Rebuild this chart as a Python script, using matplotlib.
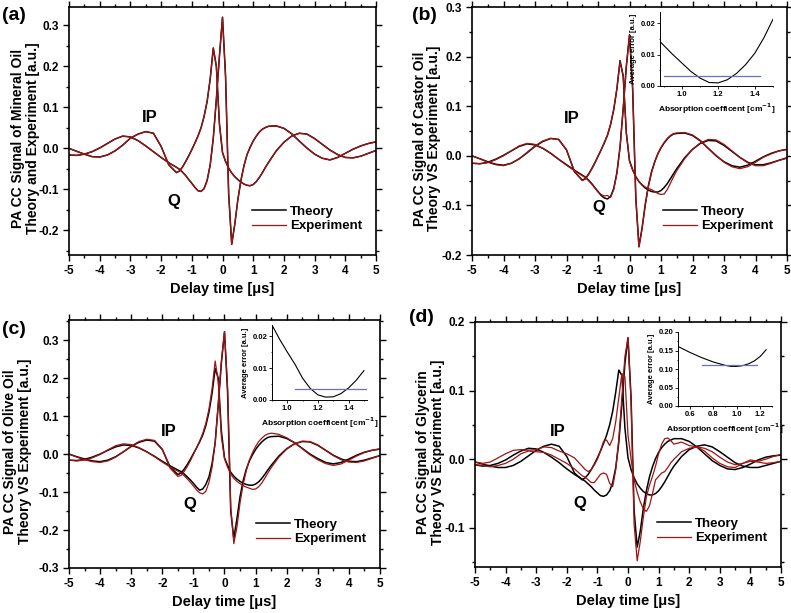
import matplotlib
matplotlib.use('Agg')
import matplotlib.pyplot as plt
from matplotlib.ticker import MultipleLocator, FormatStrFormatter

plt.rcParams['font.family'] = ['Liberation Sans', 'DejaVu Sans']
plt.rcParams['font.weight'] = 'bold'
plt.rcParams['axes.unicode_minus'] = False

# delay time samples [us], shared by every curve
t = [-5, -4.75, -4.5, -4.25, -4, -3.75, -3.5, -3.25, -3, -2.75, -2.5, -2.25, -2, -1.75, -1.5,
     -1.4, -1.3, -1.2, -1.1, -1.0, -0.9, -0.8, -0.7, -0.6, -0.5, -0.4, -0.3, -0.2, -0.1,
     0, 0.1, 0.2, 0.3, 0.4, 0.5, 0.6, 0.7, 0.8, 0.9, 1.0, 1.1, 1.2, 1.3, 1.4,
     1.5, 1.75, 2, 2.25, 2.5, 2.75, 3, 3.25, 3.5, 3.75, 4, 4.25, 4.5, 4.75, 5]

# (a) mineral oil
th_a_ip = [0.000, -0.007, -0.014, -0.020, -0.021, -0.016, -0.006, 0.008, 0.025, 0.035, 0.041, 0.037, 0.005, -0.040, -0.059,
           -0.055, -0.045, -0.032, -0.018, -0.003, 0.013, 0.030, 0.050, 0.078, 0.115, 0.170, 0.245, 0.200, 0.060,
           -0.010, -0.032, -0.048, -0.060, -0.069, -0.076, -0.082, -0.087, -0.090, -0.091, -0.088, -0.081, -0.071, -0.059, -0.046,
           -0.034, -0.006, 0.015, 0.030, 0.037, 0.035, 0.024, 0.010, -0.004, -0.015, -0.022, -0.023, -0.019, -0.012, -0.005]
th_a_q = [-0.016, -0.017, -0.014, -0.008, 0.001, 0.012, 0.023, 0.030, 0.028, 0.019, 0.006, -0.008, -0.022, -0.035, -0.046,
          -0.051, -0.058, -0.066, -0.076, -0.085, -0.095, -0.103, -0.105, -0.098, -0.078, -0.040, 0.025, 0.120, 0.225,
          0.320, 0.175, -0.110, -0.234, -0.185, -0.125, -0.078, -0.042, -0.015, 0.003, 0.018, 0.030, 0.040, 0.047, 0.051,
          0.054, 0.055, 0.049, 0.036, 0.018, 0.001, -0.014, -0.024, -0.028, -0.022, -0.012, -0.002, 0.006, 0.012, 0.016]
# experiment lies on top of theory in (a)
ex_a_ip = th_a_ip
ex_a_q = th_a_q

# (b) castor oil
th_b_ip = [0.000, -0.006, -0.012, -0.017, -0.019, -0.015, -0.006, 0.006, 0.019, 0.029, 0.035, 0.033, 0.012, -0.032, -0.049,
           -0.046, -0.037, -0.026, -0.014, -0.001, 0.012, 0.026, 0.041, 0.063, 0.093, 0.135, 0.192, 0.160, 0.045,
           -0.010, -0.028, -0.042, -0.052, -0.059, -0.065, -0.069, -0.072, -0.073, -0.073, -0.070, -0.064, -0.056, -0.046, -0.036,
           -0.026, -0.004, 0.013, 0.025, 0.031, 0.030, 0.021, 0.009, -0.003, -0.013, -0.018, -0.018, -0.014, -0.009, -0.004]
th_b_q = [-0.015, -0.016, -0.013, -0.007, 0.001, 0.010, 0.019, 0.024, 0.022, 0.015, 0.005, -0.007, -0.018, -0.029, -0.039,
          -0.043, -0.049, -0.056, -0.064, -0.072, -0.080, -0.085, -0.087, -0.082, -0.066, -0.034, 0.018, 0.095, 0.180,
          0.244, 0.135, -0.085, -0.183, -0.145, -0.098, -0.060, -0.032, -0.012, 0.004, 0.016, 0.026, 0.034, 0.040, 0.044,
          0.045, 0.046, 0.041, 0.030, 0.015, 0.000, -0.012, -0.020, -0.023, -0.019, -0.011, -0.002, 0.005, 0.010, 0.013]
ex_b_ip = [0.000, -0.006, -0.013, -0.018, -0.020, -0.015, -0.006, 0.007, 0.020, 0.030, 0.035, 0.033, 0.012, -0.031, -0.050,
           -0.047, -0.038, -0.027, -0.015, -0.001, 0.012, 0.027, 0.042, 0.064, 0.094, 0.136, 0.190, 0.162, 0.047,
           -0.011, -0.029, -0.043, -0.052, -0.058, -0.063, -0.066, -0.068, -0.072, -0.076, -0.078, -0.077, -0.068, -0.055, -0.042,
           -0.030, -0.006, 0.013, 0.026, 0.033, 0.032, 0.023, 0.010, -0.003, -0.014, -0.020, -0.020, -0.015, -0.009, -0.005]
ex_b_q = [-0.015, -0.016, -0.014, -0.008, 0.000, 0.010, 0.020, 0.025, 0.023, 0.015, 0.005, -0.007, -0.019, -0.030, -0.040,
          -0.044, -0.050, -0.057, -0.065, -0.073, -0.078, -0.081, -0.080, -0.084, -0.068, -0.035, 0.017, 0.096, 0.182,
          0.244, 0.136, -0.084, -0.184, -0.147, -0.100, -0.062, -0.034, -0.013, 0.004, 0.017, 0.027, 0.035, 0.041, 0.045,
          0.046, 0.047, 0.042, 0.031, 0.015, 0.001, -0.013, -0.022, -0.026, -0.022, -0.013, -0.003, 0.004, 0.010, 0.013]

# (c) olive oil
th_c_ip = [0.000, -0.007, -0.013, -0.018, -0.020, -0.016, -0.007, 0.006, 0.020, 0.031, 0.037, 0.034, 0.012, -0.034, -0.054,
           -0.050, -0.040, -0.028, -0.014, 0.001, 0.016, 0.032, 0.050, 0.075, 0.110, 0.160, 0.225, 0.200, 0.060,
           -0.010, -0.030, -0.048, -0.058, -0.066, -0.072, -0.077, -0.080, -0.082, -0.082, -0.079, -0.073, -0.064, -0.053, -0.041,
           -0.030, -0.005, 0.014, 0.027, 0.033, 0.032, 0.023, 0.010, -0.003, -0.013, -0.019, -0.020, -0.016, -0.010, -0.004]
th_c_q = [-0.016, -0.017, -0.014, -0.008, 0.000, 0.010, 0.019, 0.024, 0.023, 0.016, 0.006, -0.006, -0.019, -0.031, -0.042,
          -0.046, -0.052, -0.060, -0.068, -0.077, -0.087, -0.095, -0.092, -0.080, -0.060, -0.025, 0.030, 0.130, 0.240,
          0.322, 0.160, -0.150, -0.222, -0.170, -0.112, -0.070, -0.040, -0.018, -0.002, 0.012, 0.023, 0.032, 0.039, 0.044,
          0.046, 0.047, 0.041, 0.030, 0.015, 0.000, -0.012, -0.022, -0.026, -0.022, -0.013, -0.003, 0.005, 0.010, 0.013]
ex_c_ip = [0.000, -0.008, -0.015, -0.020, -0.022, -0.018, -0.008, 0.006, 0.021, 0.033, 0.039, 0.036, 0.013, -0.037, -0.059,
           -0.056, -0.046, -0.033, -0.018, -0.001, 0.016, 0.034, 0.054, 0.081, 0.118, 0.172, 0.245, 0.190, 0.045,
           -0.012, -0.035, -0.053, -0.064, -0.072, -0.078, -0.083, -0.087, -0.090, -0.093, -0.092, -0.086, -0.076, -0.063, -0.049,
           -0.036, -0.008, 0.013, 0.027, 0.034, 0.033, 0.024, 0.010, -0.004, -0.015, -0.021, -0.022, -0.018, -0.011, -0.004]
ex_c_q = [-0.016, -0.018, -0.016, -0.010, -0.001, 0.011, 0.022, 0.027, 0.025, 0.017, 0.006, -0.007, -0.021, -0.034, -0.045,
          -0.050, -0.057, -0.065, -0.074, -0.084, -0.094, -0.102, -0.105, -0.098, -0.075, -0.035, 0.030, 0.135, 0.245,
          0.322, 0.175, -0.140, -0.236, -0.192, -0.128, -0.080, -0.044, -0.016, 0.004, 0.020, 0.033, 0.042, 0.049, 0.053,
          0.055, 0.052, 0.043, 0.030, 0.014, -0.002, -0.015, -0.025, -0.030, -0.026, -0.016, -0.005, 0.004, 0.010, 0.014]

# (d) glycerin
th_d_ip = [-0.004, -0.007, -0.010, -0.012, -0.012, -0.009, -0.003, 0.005, 0.013, 0.019, 0.022, 0.019, 0.004, -0.020, -0.030,
           -0.027, -0.022, -0.015, -0.007, 0.002, 0.012, 0.023, 0.035, 0.050, 0.070, 0.098, 0.130, 0.122, 0.045,
           0.002, -0.015, -0.027, -0.036, -0.042, -0.047, -0.050, -0.052, -0.052, -0.050, -0.046, -0.040, -0.033, -0.025, -0.017,
           -0.010, 0.004, 0.014, 0.019, 0.021, 0.018, 0.011, 0.003, -0.005, -0.010, -0.012, -0.012, -0.009, -0.006, -0.003]
th_d_q = [-0.008, -0.010, -0.009, -0.006, -0.001, 0.006, 0.012, 0.016, 0.015, 0.010, 0.003, -0.005, -0.014, -0.022, -0.029,
          -0.032, -0.036, -0.040, -0.045, -0.049, -0.053, -0.054, -0.052, -0.046, -0.034, -0.012, 0.025, 0.080, 0.140,
          0.177, 0.090, -0.075, -0.128, -0.105, -0.072, -0.046, -0.026, -0.011, 0.001, 0.010, 0.017, 0.022, 0.026, 0.028,
          0.030, 0.030, 0.026, 0.018, 0.008, -0.002, -0.009, -0.014, -0.015, -0.012, -0.007, -0.001, 0.003, 0.005, 0.006]
ex_d_ip = [-0.004, -0.006, -0.004, 0.002, 0.008, 0.013, 0.014, 0.013, 0.014, 0.018, 0.017, 0.012, 0.008, 0.002, -0.010,
           -0.015, -0.018, -0.015, -0.008, 0.000, 0.012, 0.026, 0.028, 0.020, 0.030, 0.055, 0.090, 0.125, 0.120,
           0.035, 0.000, -0.030, -0.048, -0.062, -0.072, -0.076, -0.068, -0.050, -0.030, -0.025, -0.020, -0.018, -0.012, -0.005,
           0.000, 0.011, 0.016, 0.018, 0.016, 0.011, 0.003, -0.004, -0.008, -0.006, -0.003, -0.004, -0.006, -0.005, -0.003]
ex_d_q = [-0.008, -0.009, -0.011, -0.009, -0.006, 0.000, 0.008, 0.012, 0.011, 0.010, 0.006, 0.000, -0.006, -0.014, -0.024,
          -0.026, -0.030, -0.034, -0.034, -0.028, -0.022, -0.020, -0.022, -0.035, -0.040, -0.015, 0.030, 0.090, 0.150,
          0.177, 0.085, -0.095, -0.148, -0.120, -0.085, -0.055, -0.038, -0.025, -0.010, 0.008, 0.022, 0.030, 0.031, 0.027,
          0.022, 0.025, 0.020, 0.018, 0.012, 0.002, -0.006, -0.011, -0.012, -0.006, -0.001, -0.003, 0.000, 0.004, 0.007]

# insets: average error vs absorption coefficient
ins_b_x = [0.88, 0.95, 1.0, 1.05, 1.1, 1.15, 1.2, 1.25, 1.3, 1.35, 1.4, 1.45, 1.5]
ins_b_y = [0.0141, 0.0100, 0.0073, 0.0046, 0.0025, 0.0011, 0.0010, 0.0020, 0.0040, 0.0068, 0.0104, 0.0153, 0.0212]
ins_b_lvl = [0.9, 1.43, 0.0033]
ins_c_x = [0.9, 0.95, 1.0, 1.05, 1.1, 1.15, 1.2, 1.25, 1.3, 1.35, 1.4, 1.45, 1.5]
ins_c_y = [0.0235, 0.0190, 0.0150, 0.0112, 0.0068, 0.0036, 0.0016, 0.0009, 0.0010, 0.0020, 0.0038, 0.0062, 0.0092]
ins_c_lvl = [1.05, 1.52, 0.0033]
ins_d_x = [0.5, 0.6, 0.7, 0.8, 0.9, 0.95, 1.0, 1.05, 1.1, 1.15, 1.2, 1.25]
ins_d_y = [0.161, 0.145, 0.131, 0.119, 0.110, 0.107, 0.107, 0.109, 0.114, 0.122, 0.134, 0.152]
ins_d_lvl = [0.7, 1.17, 0.110]

RED = '#a01414'
W, H = 791, 613

fig = plt.figure(figsize=(7.91, 6.13), dpi=100)


def px_axes(l, r, top, bot):
    return fig.add_axes([l / W, 1 - bot / H, (r - l) / W, (bot - top) / H])


def draw_panel(ax, th_ip, ex_ip, th_q, ex_q, ylim, ylabel, lab_x, letter, let_xy, ip_xy, q_xy):
    ax.plot(t, th_ip, color='black', lw=1.1, label='Theory')
    ax.plot(t, th_q, color='black', lw=1.1)
    ax.plot(t, ex_ip, color=RED, lw=0.9, label='Experiment')
    ax.plot(t, ex_q, color=RED, lw=0.9)
    ax.set_xlim(-5, 5)
    ax.set_ylim(*ylim)
    ax.xaxis.set_major_locator(MultipleLocator(1))
    ax.xaxis.set_minor_locator(MultipleLocator(0.5))
    ax.yaxis.set_major_locator(MultipleLocator(0.1))
    ax.yaxis.set_minor_locator(MultipleLocator(0.05))
    ax.yaxis.set_major_formatter(FormatStrFormatter('%.1f'))
    ax.tick_params(which='both', direction='out', top=True, right=True, width=1.0)
    ax.tick_params(which='major', length=4, labelsize=8.5)
    ax.tick_params(which='minor', length=2.5)
    for s in ax.spines.values():
        s.set_linewidth(1.2)
    ax.set_xlabel('Delay time [\u03bcs]', fontsize=10.5, fontweight='bold', labelpad=3)
    ax.set_ylabel(ylabel, fontsize=10, fontweight='bold', linespacing=1.05)
    ax.yaxis.set_label_coords(lab_x, 0.47)
    ax.text(ip_xy[0], ip_xy[1], 'IP', fontsize=12, fontweight='bold', ha='center', va='center')
    ax.text(q_xy[0], q_xy[1], 'Q', fontsize=12, fontweight='bold', ha='center', va='center')
    fig.text(let_xy[0] / W, 1 - let_xy[1] / H, letter, fontsize=14, fontweight='bold', ha='left', va='center')
    ax.legend(loc='lower right', bbox_to_anchor=(0.985, 0.055), frameon=False, fontsize=9.5,
              handlelength=2.6, labelspacing=0.15, handletextpad=0.3, borderpad=0.2)


def draw_inset(ax, x, y, lvl, xlim, ylim, ymaj):
    ax.plot(x, y, color='black', lw=0.8)
    ax.plot(lvl[:2], [lvl[2], lvl[2]], color='#6b6fc4', lw=0.9)
    ax.set_xlim(*xlim)
    ax.set_ylim(*ylim)
    ax.spines['top'].set_visible(False)
    ax.spines['right'].set_visible(False)
    ax.xaxis.set_major_locator(MultipleLocator(0.2))
    ax.xaxis.set_minor_locator(MultipleLocator(0.1))
    ax.yaxis.set_major_locator(MultipleLocator(ymaj))
    ax.yaxis.set_minor_locator(MultipleLocator(ymaj / 2))
    ax.xaxis.set_major_formatter(FormatStrFormatter('%.1f'))
    ax.yaxis.set_major_formatter(FormatStrFormatter('%.2f'))
    ax.tick_params(which='both', direction='out', labelsize=5.5, width=0.6, pad=1.5)
    ax.tick_params(which='major', length=2)
    ax.tick_params(which='minor', length=1)
    for s in ax.spines.values():
        s.set_linewidth(0.7)
    ax.patch.set_alpha(0)
    ax.set_xlabel('Absorption coefficent [cm$^{-1}$]', fontsize=6, fontweight='bold', labelpad=2.5)
    ax.set_ylabel('Average error [a.u.]', fontsize=5.5, fontweight='bold', labelpad=2)


ax_a = px_axes(69, 376, 7, 255)
draw_panel(ax_a, th_a_ip, ex_a_ip, th_a_q, ex_a_q, (-0.26, 0.345),
           'PA CC Signal of Mineral Oil\nTheory and Experiment [a.u.]', -0.095, '(a)', (2, 15),
           (-2.36, 0.076), (-1.6, -0.129))

ax_b = px_axes(472, 787, 7, 255)
draw_panel(ax_b, th_b_ip, ex_b_ip, th_b_q, ex_b_q, (-0.2, 0.3),
           'PA CC Signal of Castor Oil\nTheory VS Experiment [a.u.]', -0.097, '(b)', (412, 15),
           (-1.83, 0.076), (-0.98, -0.105))

ax_c = px_axes(69, 380, 320, 568)
draw_panel(ax_c, th_c_ip, ex_c_ip, th_c_q, ex_c_q, (-0.3, 0.353),
           'PA CC Signal of Olive Oil\nTheory VS Experiment [a.u.]', -0.119, '(c)', (2, 330),
           (-1.8, 0.059), (-1.1, -0.134))

ax_d = px_axes(475, 781, 322, 567)
draw_panel(ax_d, th_d_ip, ex_d_ip, th_d_q, ex_d_q, (-0.157, 0.2),
           'PA CC Signal of Glycerin\nTheory VS Experiment [a.u.]', -0.098, '(d)', (409, 318),
           (-2.29, 0.041), (-1.58, -0.064))

in_b = px_axes(660, 773, 12, 86)
draw_inset(in_b, ins_b_x, ins_b_y, ins_b_lvl, (0.88, 1.5), (0, 0.0235), 0.01)
in_c = px_axes(272, 367, 325, 400)
draw_inset(in_c, ins_c_x, ins_c_y, ins_c_lvl, (0.9, 1.52), (0, 0.0235), 0.01)
in_d = px_axes(678, 772, 332, 406)
draw_inset(in_d, ins_d_x, ins_d_y, ins_d_lvl, (0.5, 1.3), (0, 0.2), 0.05)

fig.savefig('out.png', dpi=100)
